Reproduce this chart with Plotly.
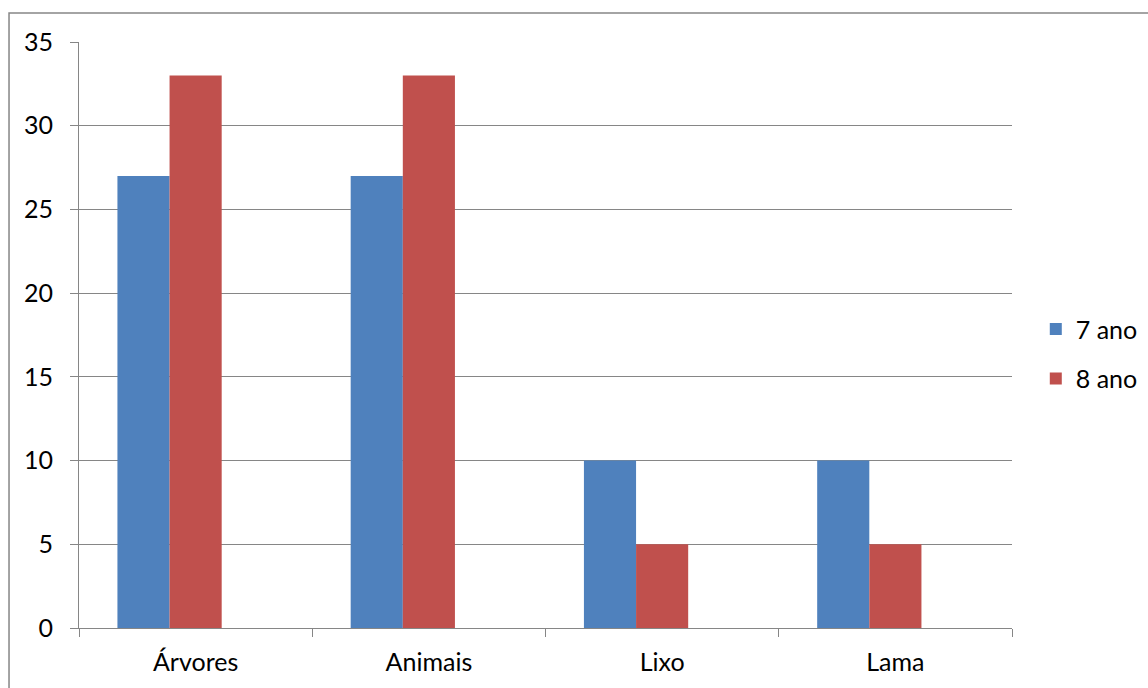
import plotly.graph_objects as go

categories = ["Árvores", "Animais", "Lixo", "Lama"]
ano7 = [27, 27, 10, 10]
ano8 = [33, 33, 5, 5]
series_names = ["7 ano", "8 ano"]
y_ticks = [0, 5, 10, 15, 20, 25, 30, 35]

FONT = "Lato"
FS = 25
GRAY = "#868686"

fig = go.Figure()
# three-slot grouping (third slot empty), bars 0.223 of a category wide
bar_w = 0.2235
fig.add_trace(go.Bar(x=categories, y=ano7, name=series_names[0],
                     marker=dict(color="#4F81BD", line=dict(width=0)),
                     width=bar_w, offset=-1.5 * bar_w, legendgroup="a"))
fig.add_trace(go.Bar(x=categories, y=ano8, name=series_names[1],
                     marker=dict(color="#C0504D", line=dict(width=0)),
                     width=bar_w, offset=-0.5 * bar_w, legendgroup="b"))

fig.update_layout(
    width=1148, height=688,
    margin=dict(l=79, r=136, t=42, b=60, autoexpand=False),
    paper_bgcolor="white", plot_bgcolor="white",
    font=dict(family=FONT, size=FS, color="black"),
    showlegend=True,
    legend=dict(x=1.0255, y=0.468, xanchor="left", yanchor="middle",
                traceorder="grouped", tracegroupgap=14,
                font=dict(size=FS, family=FONT), itemwidth=30,
                bgcolor="rgba(0,0,0,0)"),
    xaxis=dict(type="category", showline=True, linecolor=GRAY, linewidth=1,
               ticks="outside", tickson="boundaries", ticklen=8, tickcolor=GRAY,
               showgrid=False, tickfont=dict(size=FS, family=FONT),
               ticklabelstandoff=12, mirror=False),
    yaxis=dict(range=[0, 35], tickvals=y_ticks, showline=True, linecolor=GRAY,
               linewidth=1, ticks="outside", ticklen=8, tickcolor=GRAY,
               showgrid=True, gridcolor=GRAY, gridwidth=1, zeroline=False,
               tickfont=dict(size=FS, family=FONT), ticklabelstandoff=12),
    shapes=[
        dict(type="rect", xref="paper", yref="paper",
             x0=-0.075, y0=-0.2, x1=1.3, y1=1.0495,
             line=dict(color=GRAY, width=1.5), fillcolor="rgba(0,0,0,0)",
             layer="below"),
    ],
)

fig.write_html("out.html")
